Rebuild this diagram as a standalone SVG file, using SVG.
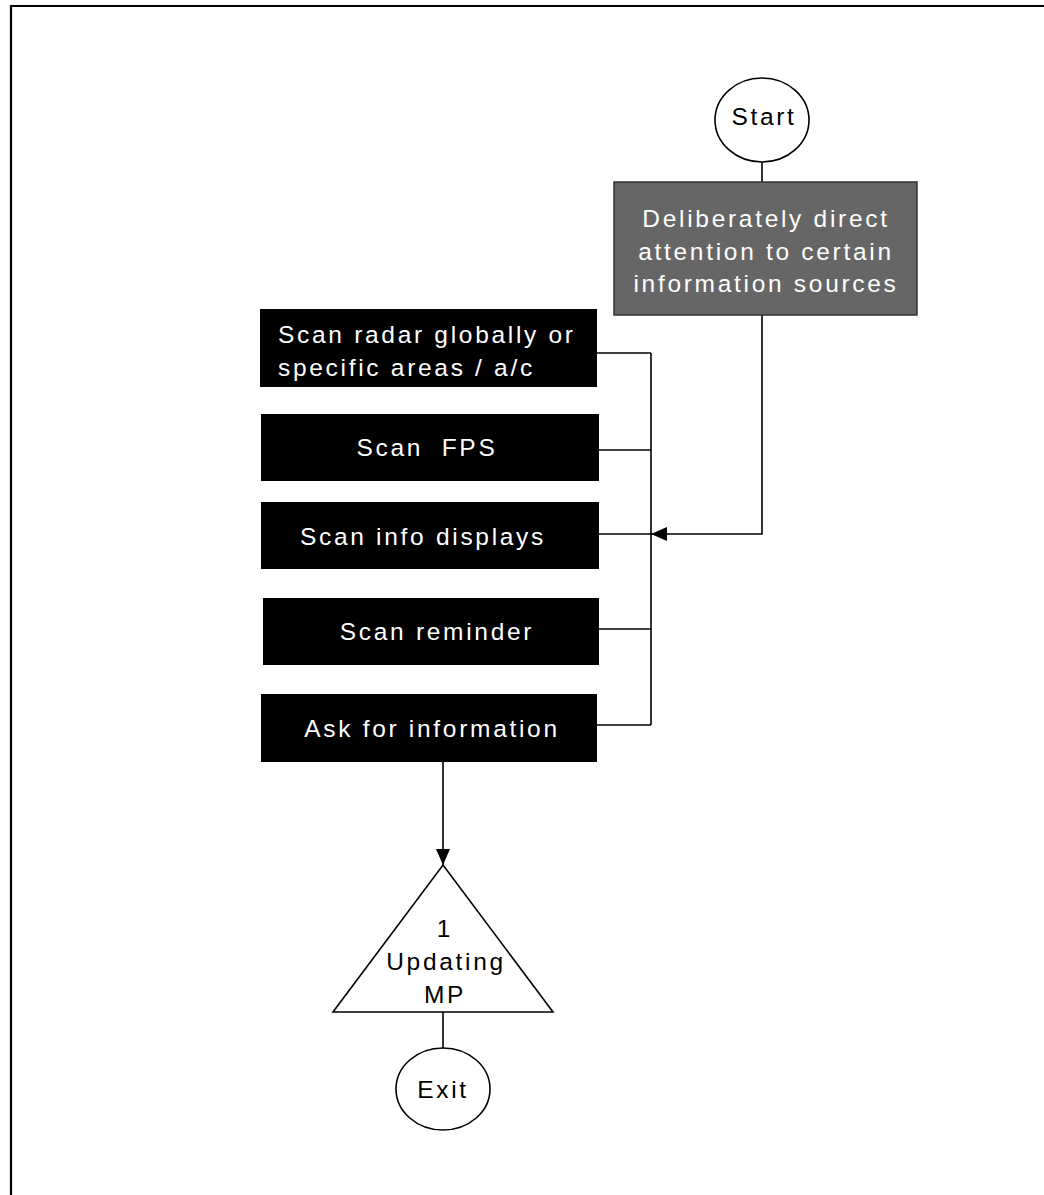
<svg xmlns="http://www.w3.org/2000/svg" width="1044" height="1195" viewBox="0 0 1044 1195">
  <style>
    .lbl { font-family: "Liberation Sans", Arial, sans-serif; font-size: 24.5px; letter-spacing: 2.7px; }
    .dark { fill: #ffffff; }
    .light { fill: #000000; }
    .edge { fill: none; stroke: #000000; stroke-width: 1.6; }
    .term { fill: #ffffff; stroke: #000000; stroke-width: 1.6; }
    .task { fill: #000000; }
  </style>
  <defs>
    <marker id="arrow" viewBox="0 0 16 14" refX="16" refY="7" markerWidth="16" markerHeight="14" markerUnits="userSpaceOnUse" orient="auto">
      <path d="M0,0 L16,7 L0,14 Z" fill="#000000"/>
    </marker>
  </defs>

  <rect width="1044" height="1195" fill="#ffffff"/>
  <!-- page frame -->
  <path d="M11,1200 L11,6 L1050,6" fill="none" stroke="#000000" stroke-width="2.2"/>

  <g id="connectors">
    <line class="edge" x1="762" y1="162" x2="762" y2="182"/>
    <polyline class="edge" points="762,315 762,534 651,534" marker-end="url(#arrow)"/>
    <line class="edge" x1="651" y1="353" x2="651" y2="725"/>
    <line class="edge" x1="597" y1="353" x2="651" y2="353"/>
    <line class="edge" x1="599" y1="450" x2="651" y2="450"/>
    <line class="edge" x1="599" y1="534" x2="651" y2="534"/>
    <line class="edge" x1="599" y1="629" x2="651" y2="629"/>
    <line class="edge" x1="597" y1="725" x2="651" y2="725"/>
    <line class="edge" x1="443" y1="762" x2="443" y2="865" marker-end="url(#arrow)"/>
    <line class="edge" x1="443" y1="1012" x2="443" y2="1048"/>
  </g>

  <g id="start">
    <ellipse class="term" cx="762" cy="120" rx="47" ry="42"/>
    <text class="lbl light" x="764" y="125" text-anchor="middle">Start</text>
  </g>

  <g id="direct-attention">
    <rect x="614" y="182" width="303" height="133" fill="#666666" stroke="#333333" stroke-width="1.5"/>
    <text class="lbl dark" x="766" y="227" text-anchor="middle">Deliberately direct</text>
    <text class="lbl dark" x="766" y="260" text-anchor="middle">attention to certain</text>
    <text class="lbl dark" x="766" y="292" text-anchor="middle">information sources</text>
  </g>

  <g id="scan-radar">
    <rect class="task" x="260" y="309" width="337" height="78"/>
    <text class="lbl dark" x="278" y="343">Scan radar globally or</text>
    <text class="lbl dark" x="278" y="376">specific areas / a/c</text>
  </g>

  <g id="scan-fps">
    <rect class="task" x="261" y="414" width="338" height="67"/>
    <text class="lbl dark" x="427" y="456" text-anchor="middle" word-spacing="9">Scan FPS</text>
  </g>

  <g id="scan-info">
    <rect class="task" x="261" y="502" width="338" height="67"/>
    <text class="lbl dark" x="423" y="545" text-anchor="middle">Scan info displays</text>
  </g>

  <g id="scan-reminder">
    <rect class="task" x="263" y="598" width="336" height="67"/>
    <text class="lbl dark" x="437" y="640" text-anchor="middle">Scan reminder</text>
  </g>

  <g id="ask-info">
    <rect class="task" x="261" y="694" width="336" height="68"/>
    <text class="lbl dark" x="432" y="737" text-anchor="middle">Ask for information</text>
  </g>

  <g id="updating-mp">
    <polygon class="term" points="443,865 553,1012 333,1012"/>
    <text class="lbl light" x="445" y="937" text-anchor="middle">1</text>
    <text class="lbl light" x="446" y="970" text-anchor="middle">Updating</text>
    <text class="lbl light" x="445" y="1003" text-anchor="middle">MP</text>
  </g>

  <g id="exit">
    <ellipse class="term" cx="443" cy="1089" rx="47" ry="41"/>
    <text class="lbl light" x="443" y="1098" text-anchor="middle">Exit</text>
  </g>
</svg>
